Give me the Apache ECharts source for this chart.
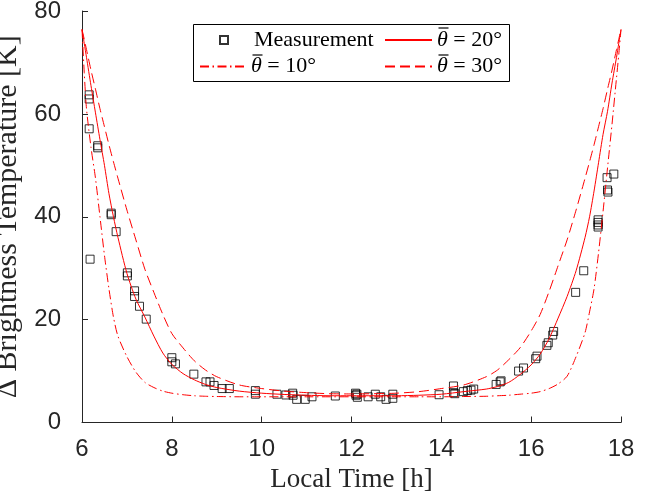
<!DOCTYPE html>
<html>
<head>
<meta charset="utf-8">
<script src="https://cdn.jsdelivr.net/npm/echarts@6/dist/echarts.min.js"></script>
<style>
  html, body { margin: 0; padding: 0; background: #fff; }
  #chart { width: 652px; height: 495px; }
</style>
</head>
<body>
<div id="chart"></div>
<script>
// Local time grid (h) on which the model curves are tabulated
const hours = [6.0, 6.05, 6.1, 6.2, 6.3, 6.4, 6.5, 6.6, 6.7, 6.8, 7.0, 7.2, 7.4, 7.6, 7.8, 8.0, 8.25, 8.5, 8.75, 9.0,
  9.5, 10, 10.5, 11, 11.5, 12, 12.5, 13, 13.5, 14, 14.5, 15, 15.25, 15.5, 15.75, 16, 16.2, 16.4, 16.6, 16.8,
  17.0, 17.2, 17.3, 17.4, 17.5, 17.6, 17.7, 17.8, 17.9, 17.95, 18];

// Modelled brightness temperature difference (K) for three mean slope angles
const theta10 = [76.4, 68, 61, 53.5, 47.5, 40, 32.5, 26, 20.5, 16.8, 12.8, 9.8, 7.8, 6.8, 6.1, 5.7, 5.4, 5.2, 5.1, 5.05,
  5.0, 5.0, 5.0, 5.0, 5.0, 5.0, 5.0, 5.0, 5.0, 5.0, 5.05, 5.1, 5.2, 5.3, 5.5, 5.7, 6.0, 6.6, 7.5, 9.0,
  12.8, 17.5, 21.5, 26, 33, 41, 49.5, 58, 67, 71.5, 76.4];
const theta20 = [76.4, 73.7, 71, 65.5, 60.2, 55, 50, 44.5, 40, 36, 29, 24, 20.5, 16.8, 13.5, 11.3, 9.5, 8.3, 7.4, 6.8,
  6.1, 5.7, 5.45, 5.3, 5.2, 5.2, 5.2, 5.2, 5.3, 5.5, 6.0, 6.5, 7.0, 7.8, 9.3, 11.2, 13.3, 16.3, 20.3, 24.5,
  29.5, 36, 40, 45, 50.5, 56, 60.5, 66, 71, 73.7, 76.4];
const theta30 = [76.4, 74.5, 72.5, 68.5, 64.8, 61, 57.5, 54, 50.7, 47.5, 41.3, 35.5, 29.8, 25.3, 21, 17.3, 14.5, 12, 10.2, 8.9,
  7.3, 6.6, 6.1, 5.8, 5.6, 5.55, 5.6, 5.7, 6.0, 6.6, 7.3, 8.9, 10.2, 12.2, 14.5, 17.8, 21, 25.5, 30.5, 35.5,
  41.3, 47.5, 50.7, 54, 57.5, 61, 64.8, 68.5, 72.5, 74.5, 76.4];

// Measured values: local time (h) and brightness temperature difference (K)
const measHour = [6.16, 6.16, 6.16, 6.35, 6.35, 6.18, 6.65, 6.65, 6.76, 7.01, 7.01, 7.17, 7.17, 7.28, 7.43,
  8.00, 8.00, 8.08, 8.49, 8.76, 8.85, 8.94, 9.12, 9.28, 9.86, 9.86,
  10.34, 10.54, 10.69, 10.70, 10.78, 10.97, 11.12, 11.64, 12.09, 12.10, 12.12, 12.13, 12.37, 12.53, 12.65, 12.77,
  12.92, 12.92, 13.95,
  14.27, 14.27, 14.30, 14.49, 14.58, 14.66, 14.72, 15.22, 15.31, 15.33, 15.72, 15.83, 16.10, 16.13, 16.35, 16.38,
  16.48, 16.50, 16.99, 17.17, 17.49, 17.49, 17.49, 17.49, 17.69, 17.70, 17.71, 17.84];
const measTemp = [63.7, 62.9, 57.1, 53.8, 53.4, 31.75, 40.7, 40.4, 37.1, 29.1, 28.5, 25.6, 24.5, 22.6, 20.1,
  12.6, 11.8, 11.4, 9.4, 7.9, 7.9, 7.2, 6.6, 6.6, 6.2, 5.5,
  5.5, 5.35, 5.7, 5.3, 4.5, 4.5, 5.0, 5.15, 5.7, 5.3, 5.5, 4.9, 5.0, 5.5, 5.0, 4.5,
  5.5, 4.7, 5.4,
  7.1, 5.8, 5.6, 6.0, 6.2, 6.3, 6.5, 7.4, 7.9, 8.1, 10.0, 10.6, 12.4, 12.9, 15.0, 15.5,
  17.0, 17.7, 25.3, 29.5, 39.4, 38.9, 38.4, 38.0, 47.6, 45.2, 44.8, 48.3];

// Axis tick values
const xTicks = [6, 8, 10, 12, 14, 16, 18];
const yTicks = [0, 20, 40, 60, 80];

const names = {
  meas: 'Measurement',
  t10: 'θ = 10°',
  t20: 'θ = 20°',
  t30: 'θ = 30°'
};

const pairs = (xs, ys) => xs.map((x, i) => [x, ys[i]]);

const axisColor = '#262626';
const serif = "'Liberation Serif', 'DejaVu Serif', serif";
const sans = "'Liberation Sans', Arial, sans-serif";

const legendText = {
  fontFamily: serif,
  fontSize: 22,
  color: '#000',
  rich: {
    i: { fontFamily: serif, fontSize: 22, fontStyle: 'italic', color: '#000' }
  }
};
const fmt = name => name.replace('θ', '{i|θ}');

function lineSeries(name, values, dash) {
  return {
    name: name,
    type: 'line',
    data: pairs(hours, values),
    symbol: 'none',
    smooth: 0.25,
    lineStyle: { color: '#ff0000', width: 1, type: dash },
    itemStyle: { color: '#ff0000' },
    z: 3
  };
}

// Bar over the mean-angle symbol in the legend labels
function overbar(x, y) {
  return {
    type: 'line', z: 12,
    shape: { x1: x, y1: y, x2: x + 10, y2: y },
    style: { stroke: '#000', lineWidth: 1.2 }
  };
}

const chart = echarts.init(document.getElementById('chart'), null, { renderer: 'canvas' });

chart.setOption({
  animation: false,
  backgroundColor: '#fff',
  grid: { left: 82, right: 31, top: 11, bottom: 72.5, outerBoundsMode: 'none' },
  xAxis: {
    type: 'value',
    min: xTicks[0],
    max: xTicks[xTicks.length - 1],
    interval: xTicks[1] - xTicks[0],
    name: 'Local Time [h]',
    nameLocation: 'middle',
    nameGap: 41,
    nameTextStyle: { fontFamily: serif, fontSize: 27, color: axisColor },
    axisLine: { show: true, onZero: false, lineStyle: { color: axisColor, width: 1 } },
    axisTick: { show: true, inside: true, length: 6, lineStyle: { color: axisColor, width: 1 } },
    axisLabel: { fontFamily: sans, fontSize: 24, color: axisColor, margin: 15 },
    splitLine: { show: false }
  },
  yAxis: {
    type: 'value',
    min: yTicks[0],
    max: yTicks[yTicks.length - 1],
    interval: yTicks[1] - yTicks[0],
    name: 'Δ Brightness Temperature [K]',
    nameLocation: 'middle',
    nameGap: 34,
    nameTextStyle: { fontFamily: serif, fontSize: 30, color: axisColor },
    axisLine: { show: true, onZero: false, lineStyle: { color: axisColor, width: 1 } },
    axisTick: { show: true, inside: true, length: 6, lineStyle: { color: axisColor, width: 1 } },
    axisLabel: { fontFamily: sans, fontSize: 24, color: axisColor, margin: 21 },
    splitLine: { show: false }
  },
  graphic: [
    {
      type: 'rect',
      z: 10,
      shape: { x: 193.5, y: 24.5, width: 316, height: 57 },
      style: { fill: '#fff', stroke: '#000', lineWidth: 1 }
    },
    overbar(438.5, 28),
    overbar(252.5, 55),
    overbar(438.5, 55)
  ],
  legend: [
    {
      data: [{ name: names.meas, icon: 'rect' }],
      left: 219, top: 29, padding: 0, itemWidth: 8, itemHeight: 8,
      textStyle: Object.assign({}, legendText, { padding: [0, 0, 0, 21] }),
      formatter: fmt, z: 11, selectedMode: false
    },
    {
      data: [names.t20], left: 384, top: 29, padding: 0, itemWidth: 47, itemHeight: 14,
      itemStyle: { opacity: 0 },
      textStyle: legendText, formatter: fmt, z: 11, selectedMode: false
    },
    {
      data: [names.t10], left: 199, top: 55.5, padding: 0, itemWidth: 46, itemHeight: 14,
      itemStyle: { opacity: 0 },
      textStyle: legendText, formatter: fmt, z: 11, selectedMode: false
    },
    {
      data: [names.t30], left: 384, top: 55.5, padding: 0, itemWidth: 47, itemHeight: 14,
      itemStyle: { opacity: 0 },
      textStyle: legendText, formatter: fmt, z: 11, selectedMode: false
    }
  ],
  series: [
    {
      name: names.meas,
      type: 'scatter',
      data: pairs(measHour, measTemp),
      symbol: 'rect',
      symbolSize: 8,
      itemStyle: { color: 'rgba(0,0,0,0)', borderColor: '#000', borderWidth: 1 },
      z: 2
    },
    lineSeries(names.t10, theta10, [9, 3.5, 1.5, 3.5]),
    lineSeries(names.t20, theta20, 'solid'),
    lineSeries(names.t30, theta30, [10, 5])
  ]
});
</script>
</body>
</html>
